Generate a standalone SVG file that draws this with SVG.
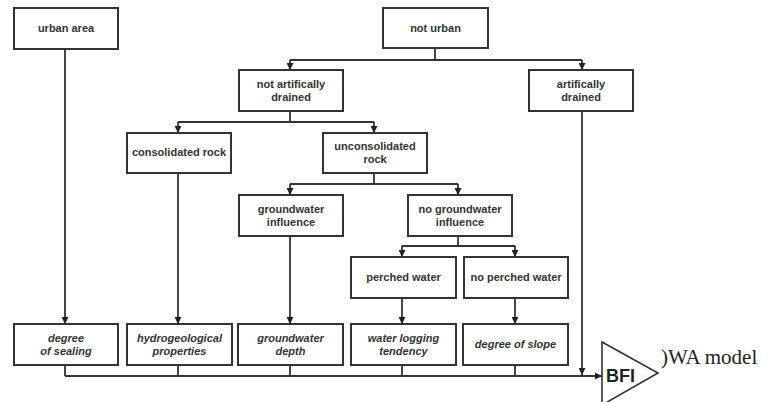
<svg xmlns="http://www.w3.org/2000/svg" width="768" height="402" viewBox="0 0 768 402">
<style>
.box{fill:#fff;stroke:#333;stroke-width:2}
.t{font-family:"Liberation Sans",Arial,sans-serif;font-size:11px;font-weight:bold;fill:#333;text-anchor:middle}
.i{font-style:italic}
.c{fill:none;stroke:#333;stroke-width:1.8}
</style>
<defs>
<marker id="ah" viewBox="0 0 8 8" refX="8" refY="4" markerWidth="7" markerHeight="7" markerUnits="userSpaceOnUse" orient="auto">
<path d="M0,0 L8,4 L0,8 z" fill="#222"/>
</marker>
</defs>
<rect width="768" height="402" fill="#fff"/>
<g id="connectors">
<path class="c" d="M65,49 V324" marker-end="url(#ah)"/>
<path class="c" d="M435,48 V60 M290,60 H582"/>
<path class="c" d="M290,60 V70" marker-end="url(#ah)"/>
<path class="c" d="M582,60 V70" marker-end="url(#ah)"/>
<path class="c" d="M290,111 V122 M178,122 H374"/>
<path class="c" d="M178,122 V133" marker-end="url(#ah)"/>
<path class="c" d="M374,122 V133" marker-end="url(#ah)"/>
<path class="c" d="M178,173 V324" marker-end="url(#ah)"/>
<path class="c" d="M374,173 V184 M290,184 H458"/>
<path class="c" d="M290,184 V195" marker-end="url(#ah)"/>
<path class="c" d="M458,184 V195" marker-end="url(#ah)"/>
<path class="c" d="M290,236 V324" marker-end="url(#ah)"/>
<path class="c" d="M458,236 V246 M402,246 H515"/>
<path class="c" d="M402,246 V257" marker-end="url(#ah)"/>
<path class="c" d="M515,246 V257" marker-end="url(#ah)"/>
<path class="c" d="M402,298 V324" marker-end="url(#ah)"/>
<path class="c" d="M515,298 V324" marker-end="url(#ah)"/>
<path class="c" d="M582,111 V375" marker-end="url(#ah)"/>
<path class="c" d="M65,365 V376 M178,365 V376 M290,365 V376 M402,365 V376 M515,365 V376"/>
<path class="c" d="M65,376 H602" marker-end="url(#ah)"/>
</g>
<g id="urban-area"><rect class="box" x="14" y="8" width="104" height="41"/><text class="t" x="66" y="32">urban area</text></g>
<g id="not-urban"><rect class="box" x="383" y="8" width="105" height="40"/><text class="t" x="435.5" y="32">not urban</text></g>
<g id="not-artificially-drained"><rect class="box" x="239" y="70" width="104" height="41"/><text class="t" x="291" y="88">not artifically</text><text class="t" x="291" y="101">drained</text></g>
<g id="artificially-drained"><rect class="box" x="529" y="70" width="104" height="41"/><text class="t" x="581" y="88">artifically</text><text class="t" x="581" y="101">drained</text></g>
<g id="consolidated-rock"><rect class="box" x="127" y="133" width="104" height="40"/><text class="t" x="179" y="156">consolidated rock</text></g>
<g id="unconsolidated-rock"><rect class="box" x="323" y="133" width="104" height="40"/><text class="t" x="375" y="150">unconsolidated</text><text class="t" x="375" y="163">rock</text></g>
<g id="groundwater-influence"><rect class="box" x="239" y="195" width="104" height="41"/><text class="t" x="291" y="213">groundwater</text><text class="t" x="291" y="226">influence</text></g>
<g id="no-groundwater-influence"><rect class="box" x="408" y="195" width="104" height="41"/><text class="t" x="460" y="213">no groundwater</text><text class="t" x="460" y="226">influence</text></g>
<g id="perched-water"><rect class="box" x="351" y="257" width="105" height="41"/><text class="t" x="403.5" y="281">perched water</text></g>
<g id="no-perched-water"><rect class="box" x="464" y="257" width="104" height="41"/><text class="t" x="516" y="281">no perched water</text></g>
<g id="degree-of-sealing"><rect class="box" x="14" y="324" width="104" height="41"/><text class="t i" x="66" y="342">degree</text><text class="t i" x="66" y="355">of sealing</text></g>
<g id="hydrogeological-properties"><rect class="box" x="127" y="324" width="105" height="41"/><text class="t i" x="179.5" y="342">hydrogeological</text><text class="t i" x="179.5" y="355">properties</text></g>
<g id="groundwater-depth"><rect class="box" x="238" y="324" width="105" height="41"/><text class="t i" x="290.5" y="342">groundwater</text><text class="t i" x="290.5" y="355">depth</text></g>
<g id="water-logging-tendency"><rect class="box" x="351" y="324" width="105" height="41"/><text class="t i" x="403.5" y="342">water logging</text><text class="t i" x="403.5" y="355">tendency</text></g>
<g id="degree-of-slope"><rect class="box" x="463" y="324" width="105" height="41"/><text class="t i" x="515.5" y="348">degree of slope</text></g>
<g id="bfi">
<path d="M602,342 L658,373 L602,405 Z" fill="#fff" stroke="#333" stroke-width="1.6"/>
<text x="606" y="382" font-family="Liberation Sans,Arial,sans-serif" font-weight="bold" font-size="18" fill="#222">BFI</text>
</g>
<g id="owa-model"><text x="661" y="364" font-family="Liberation Serif,Times New Roman,serif" font-size="21" fill="#222">)WA model</text></g>
</svg>
